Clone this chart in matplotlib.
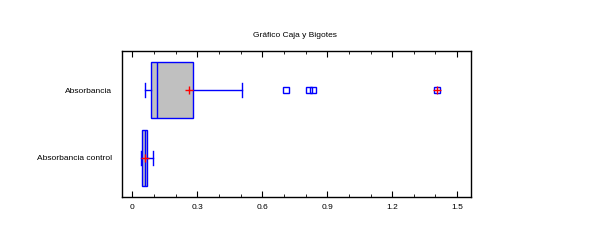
import matplotlib
matplotlib.use("Agg")
import matplotlib.pyplot as plt
from matplotlib.ticker import MultipleLocator

plt.rcParams['font.family'] = ['Liberation Sans', 'DejaVu Sans']

# box-and-whisker summaries
labels = ["Absorbancia control", "Absorbancia"]
whislo = [0.042, 0.057]
q1 = [0.046, 0.088]
med = [0.057, 0.115]
q3 = [0.069, 0.281]
whishi = [0.094, 0.505]
means = [0.059, 0.262]
outside = [[], [0.711, 0.817, 0.835]]
far_outside = [[], [1.409]]

stats = []
for i in range(len(labels)):
    stats.append(dict(label=labels[i], whislo=whislo[i], q1=q1[i], med=med[i],
                      q3=q3[i], whishi=whishi[i], mean=means[i],
                      fliers=outside[i] + far_outside[i]))

fig = plt.figure(figsize=(5.94, 2.49), dpi=100)
ax = fig.add_axes([0.2054, 0.2088, 0.5875, 0.5862])

blue = "#0000ff"
ax.bxp(stats, positions=[1, 2], vert=False, widths=0.83, patch_artist=True,
       showmeans=True, showcaps=True,
       boxprops=dict(facecolor="#c0c0c0", edgecolor=blue, linewidth=1),
       medianprops=dict(color=blue, linewidth=1),
       whiskerprops=dict(color=blue, linewidth=1),
       capprops=dict(color=blue, linewidth=1),
       meanprops=dict(marker="+", markeredgecolor="red", markersize=6, markeredgewidth=1),
       flierprops=dict(marker="s", markerfacecolor="none", markeredgecolor=blue,
                       markersize=4.5, markeredgewidth=1),
       capwidths=0.2)

# far outside points get an extra red plus
for i, pts in enumerate(far_outside):
    if pts:
        ax.plot(pts, [i + 1] * len(pts), "+", color="red", markersize=6, mew=1)

ax.set_xlim(-0.048, 1.564)
ax.set_ylim(0.42, 2.576)
ax.xaxis.set_minor_locator(MultipleLocator(0.1))
ticks = [0, 0.3, 0.6, 0.9, 1.2, 1.5]
ax.set_xticks(ticks)
ax.set_xticklabels(["0", "0.3", "0.6", "0.9", "1.2", "1.5"])
ax.tick_params(axis="x", which="both", direction="in", top=True, labelsize=6, pad=5)
ax.tick_params(axis="x", which="major", length=4)
ax.tick_params(axis="x", which="minor", length=2)
ax.tick_params(axis="y", length=0, labelsize=6, pad=7)
for s in ax.spines.values():
    s.set_linewidth(1)

fig.text(0.497, 0.856, "Gráfico Caja y Bigotes", ha="center", va="center", fontsize=6)

fig.savefig("out.png", dpi=100)
